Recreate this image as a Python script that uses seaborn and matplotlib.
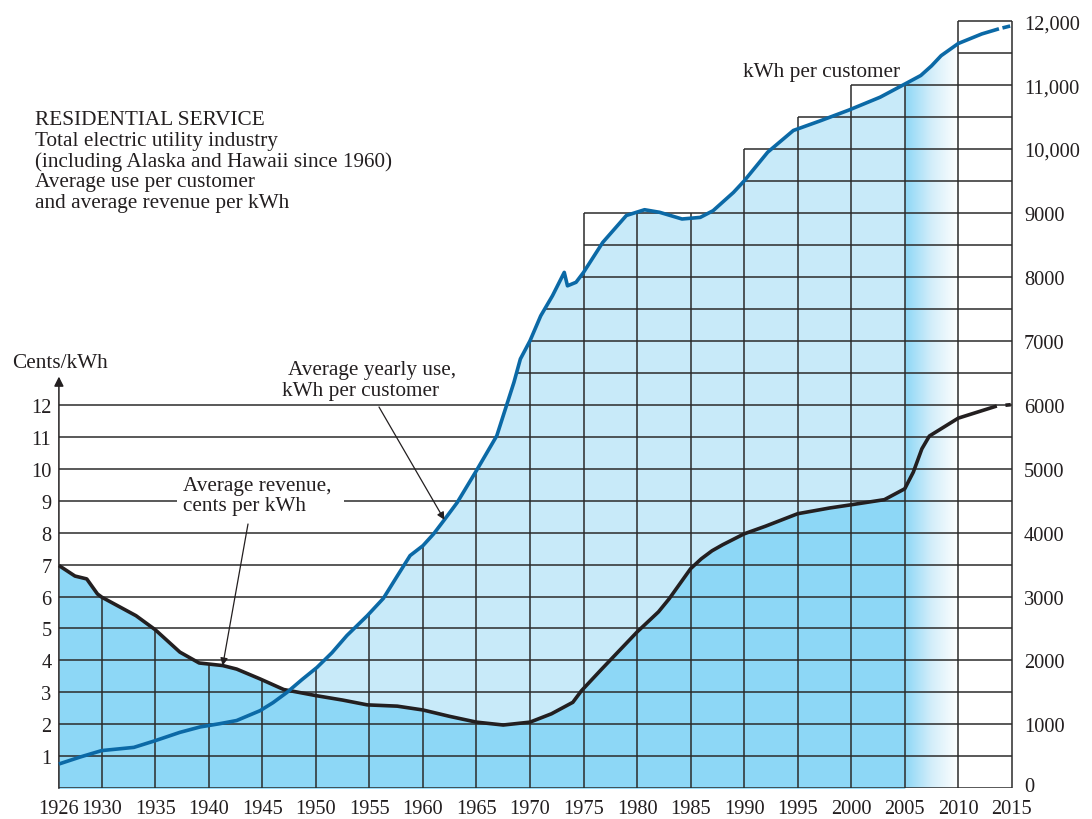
import numpy as np
import matplotlib
matplotlib.use("Agg")
import matplotlib.pyplot as plt
import matplotlib.transforms as mtransforms
from matplotlib.patches import Polygon
from matplotlib.colors import LinearSegmentedColormap
from matplotlib.collections import LineCollection
import seaborn as sns

# ---- data -------------------------------------------------------------
# Average yearly use, kWh per customer (solid part)
use_years = [1926, 1928, 1930, 1933, 1935, 1937.3, 1939.2, 1941, 1942.6, 1944.8,
             1946, 1947.3, 1948.7, 1950.1, 1951.5, 1952.9, 1954.8, 1956.3, 1957.6,
             1958.8, 1960, 1961, 1962, 1963.2, 1965, 1966.9, 1967.8, 1968.5, 1969.1,
             1970, 1971, 1972.1, 1973.2, 1973.5, 1974.3, 1975, 1976.8, 1979, 1980.7,
             1982.1, 1984.2, 1985.9, 1987.1, 1989, 1990, 1992.2, 1994.6, 1997.1,
             1999.8, 2002.7, 2005, 2006.5, 2007.5, 2008.4, 2010, 2012.2, 2013.8]
use_kwh = [380, 490, 590, 640, 745, 875, 960, 1010, 1060, 1215,
           1340, 1500, 1700, 1890, 2120, 2390, 2700, 2970, 3320,
           3640, 3795, 3980, 4200, 4470, 4970, 5515, 5985, 6350, 6715,
           7000, 7390, 7705, 8070, 7860, 7915, 8070, 8540, 8960, 9050,
           9010, 8905, 8930, 9035, 9320, 9500, 9950, 10290, 10440,
           10610, 10810, 11015, 11150, 11300, 11460, 11650, 11800, 11880]
# dashed (preliminary) tail
use_tail_years = [2013.8, 2015]
use_tail_kwh = [11880, 11930]

# Average revenue, cents per kWh (solid part)
rev_years = [1926, 1927.5, 1928.6, 1929.6, 1930, 1933.2, 1935, 1937.3, 1939.1,
             1941.3, 1942.6, 1944.8, 1947, 1950, 1952.5, 1954.8, 1957.6, 1960,
             1962.5, 1965, 1967.5, 1970, 1972, 1974, 1974.8, 1976.7, 1980, 1982,
             1983, 1984, 1985, 1986, 1987, 1988, 1990, 1992, 1995, 1998, 2000,
             2003.1, 2005, 2005.8, 2006.6, 2007.3, 2010, 2013.6]
rev_cents = [6.97, 6.64, 6.55, 6.08, 5.98, 5.40, 4.96, 4.26, 3.92,
             3.84, 3.73, 3.42, 3.09, 2.90, 2.76, 2.61, 2.57, 2.45,
             2.25, 2.07, 1.98, 2.07, 2.33, 2.69, 3.05, 3.73, 4.89, 5.52,
             5.93, 6.40, 6.87, 7.18, 7.43, 7.62, 7.96, 8.20, 8.59, 8.77, 8.87,
             9.03, 9.37, 9.89, 10.62, 11.02, 11.58, 11.96]
rev_tail_years = [2013.6, 2014.9]
rev_tail_cents = [11.96, 12.0]

# axis ticks
year_ticks = [1926, 1930, 1935, 1940, 1945, 1950, 1955, 1960, 1965, 1970,
              1975, 1980, 1985, 1990, 1995, 2000, 2005, 2010, 2015]
kwh_ticks = list(range(0, 12001, 1000))
kwh_labels = ["0", "1000", "2000", "3000", "4000", "5000", "6000", "7000",
              "8000", "9000", "10,000", "11,000", "12,000"]
cent_ticks = list(range(1, 13))

# stepped frame of the grid above the 12-cent line
frame_start = [1975, 1990, 1995, 2000, 2010]
frame_end = [1990, 1995, 2000, 2010, 2015]
frame_top = [9000, 10000, 10500, 11000, 12000]

# ---- style --------------------------------------------------------------
sns.set_theme(style="white")
plt.rcParams["font.family"] = ["Liberation Serif", "DejaVu Serif"]
INK = "#231F20"
GRID = "#2b2b2b"
DARK = "#8DD7F6"
LIGHT = "#C8EAF9"
BLUE = "#0B69A6"
FS = 15.3

W, H = 1092, 820
fig = plt.figure(figsize=(W / 100, H / 100), dpi=100)
fig.patch.set_facecolor("white")
ax = fig.add_axes([0.04904, 0.03744, 0.88242, 0.95116])
ax.set_xlim(1925.5, 2015.5)
ax.set_ylim(0, 12200)
for s in ax.spines.values():
    s.set_visible(False)
ax.set_facecolor("none")

# transform for series measured in cents (1 cent = 500 kWh on the shared grid)
cent_tr = mtransforms.Affine2D().scale(1, 500) + ax.transData

uy = np.array(use_years + use_tail_years[1:], float)
uk = np.array(use_kwh + use_tail_kwh[1:], float)
ry = np.array(rev_years + rev_tail_years[1:], float)
rc = np.array(rev_cents + rev_tail_cents[1:], float)

# ---- fills --------------------------------------------------------------
m_use = uy <= 2005
ax.fill_between(uy[m_use], 0, uk[m_use], color=LIGHT, lw=0, zorder=1)
m_rev = ry <= 2005
ax.fill_between(ry[m_rev], 0, rc[m_rev], color=DARK, lw=0, zorder=1.2,
                transform=cent_tr)

# fading band 2005-2010 under the usage curve
m_g = (uy >= 2005) & (uy <= 2010)
verts = [(2005, 0)] + list(zip(uy[m_g], uk[m_g])) + [(2010, 0)]
clip_poly = Polygon(verts, closed=True, transform=ax.transData, facecolor="none",
                    edgecolor="none")
ax.add_patch(clip_poly)
fade = LinearSegmentedColormap.from_list("fade", [DARK, "#D4EEFA", "#FFFFFF"])
grad = np.linspace(0, 1, 256).reshape(1, -1)
im = ax.imshow(grad, extent=[2005, 2010, 0, 12000], aspect="auto", cmap=fade,
               origin="lower", zorder=1.3, interpolation="bilinear")
im.set_clip_path(clip_poly)

# ---- grid, limited to the filled area and the stepped frame -------------
xs = np.round(np.arange(1926, 2015 + 1e-9, 0.005), 4)
env = np.maximum(np.interp(xs, uy, uk), np.interp(xs, ry, rc) * 500)
boxed = np.zeros_like(xs)
for s, e, t in zip(frame_start, frame_end, frame_top):
    m = (xs >= s - 1e-9) & (xs <= e + 1e-9)
    boxed[m] = np.maximum(boxed[m], t)
top_v = np.where(boxed > 0, boxed, env)
top_h = np.maximum(top_v, 6000)

label_gap = (1937.0, 1952.6)  # opening in the 9-cent line for the label

segs = []
for level in range(0, 12001, 500):
    mask = (top_h >= level - 1e-6).astype(int)
    edges = np.flatnonzero(np.diff(np.concatenate([[0], mask, [0]])))
    for a, b in zip(edges[::2], edges[1::2] - 1):
        x0, x1 = xs[a], xs[b]
        if level == 4500:
            segs.append([(x0, level), (label_gap[0], level)])
            segs.append([(label_gap[1], level), (x1, level)])
        else:
            segs.append([(x0, level), (x1, level)])

for yr in year_ticks[1:]:
    inside = [t for s, e, t in zip(frame_start, frame_end, frame_top) if s <= yr <= e]
    if inside:
        t = max(inside)
    else:
        t = float(np.interp(yr, xs, env))
    segs.append([(yr, 0), (yr, t)])

ax.add_collection(LineCollection(segs, colors=GRID, linewidths=1.1, zorder=2,
                                 capstyle="butt"))

# left axis with arrow
ax.annotate("", xy=(1926, 6440), xytext=(1926, 0),
            arrowprops=dict(arrowstyle="-|>", lw=1.1, color=INK, shrinkA=0,
                            shrinkB=0, mutation_scale=14), zorder=3,
            annotation_clip=False)

# ---- curves -------------------------------------------------------------
line_kw = dict(lw=2.6, sort=False, solid_capstyle="butt", solid_joinstyle="round")
sns.lineplot(x=rev_years, y=rev_cents, ax=ax, color=INK, transform=cent_tr,
             zorder=4, **line_kw)
sns.lineplot(x=rev_tail_years, y=rev_tail_cents, ax=ax, color=INK, lw=2.6,
             sort=False, transform=cent_tr, zorder=4,
             linestyle=(1.6, (1.6, 2.4)))
sns.lineplot(x=use_years, y=use_kwh, ax=ax, color=BLUE, zorder=5, **line_kw)
sns.lineplot(x=use_tail_years, y=use_tail_kwh, ax=ax, color=BLUE, lw=2.6,
             sort=False, zorder=5, linestyle=(2.2, (2.2, 1.0)))

ax.set_xlim(1925.5, 2015.5)
ax.set_ylim(0, 12200)

# ---- ticks --------------------------------------------------------------
ax.set_xticks(year_ticks)
ax.set_xticklabels([str(y) for y in year_ticks])
ax.yaxis.tick_right()
ax.set_yticks(kwh_ticks)
ax.set_yticklabels(kwh_labels)
ax.tick_params(axis="both", length=0, labelsize=FS - 0.6, colors=INK)
ax.tick_params(axis="x", pad=7.5)
ax.tick_params(axis="y", pad=5)
ax.set_xlabel("")
ax.set_ylabel("")
# lift the zero label a touch so it clears the last year label
zero_lbl = ax.get_yticklabels()[0]
zero_lbl.set_transform(zero_lbl.get_transform()
                       + mtransforms.ScaledTranslation(0, 3 / 72, fig.dpi_scale_trans))

sec = ax.secondary_yaxis("left", functions=(lambda k: k / 500, lambda c: c * 500))
sec.set_yticks(cent_ticks)
sec.tick_params(length=0, labelsize=FS - 0.6, colors=INK, pad=1.5)
for s in sec.spines.values():
    s.set_visible(False)


# ---- text ---------------------------------------------------------------
def ftext(px, py, s, **kw):
    fig.text(px / W, 1 - py / H, s, fontsize=FS, color=INK, va="baseline", **kw)


header = ["RESIDENTIAL SERVICE",
          "Total electric utility industry",
          "(including Alaska and Hawaii since 1960)",
          "Average use per customer",
          "and average revenue per kWh"]
for i, line in enumerate(header):
    ftext(35, 125 + i * 20.8, line)

ftext(743, 77, "kWh per customer")
ftext(12, 368, "Cents/kWh")
ftext(288, 375, "Average yearly use,")
ftext(282, 396.5, "kWh per customer")
ftext(183, 491.5, "Average revenue,")
ftext(183, 510.5, "cents per kWh")

arrow_kw = dict(arrowstyle="-|>", lw=0.9, color=INK, shrinkA=0, shrinkB=0,
                mutation_scale=11)
ax.annotate("", xy=(1941.3, float(np.interp(1941.3, ry, rc))), xycoords=cent_tr,
            xytext=(248, H - 525), textcoords="figure pixels",
            arrowprops=arrow_kw, zorder=6)
ax.annotate("", xy=(1962.0, float(np.interp(1962.0, uy, uk))), xycoords="data",
            xytext=(379, H - 408), textcoords="figure pixels",
            arrowprops=arrow_kw, zorder=6)

fig.savefig("out.png", dpi=100, facecolor="white")
